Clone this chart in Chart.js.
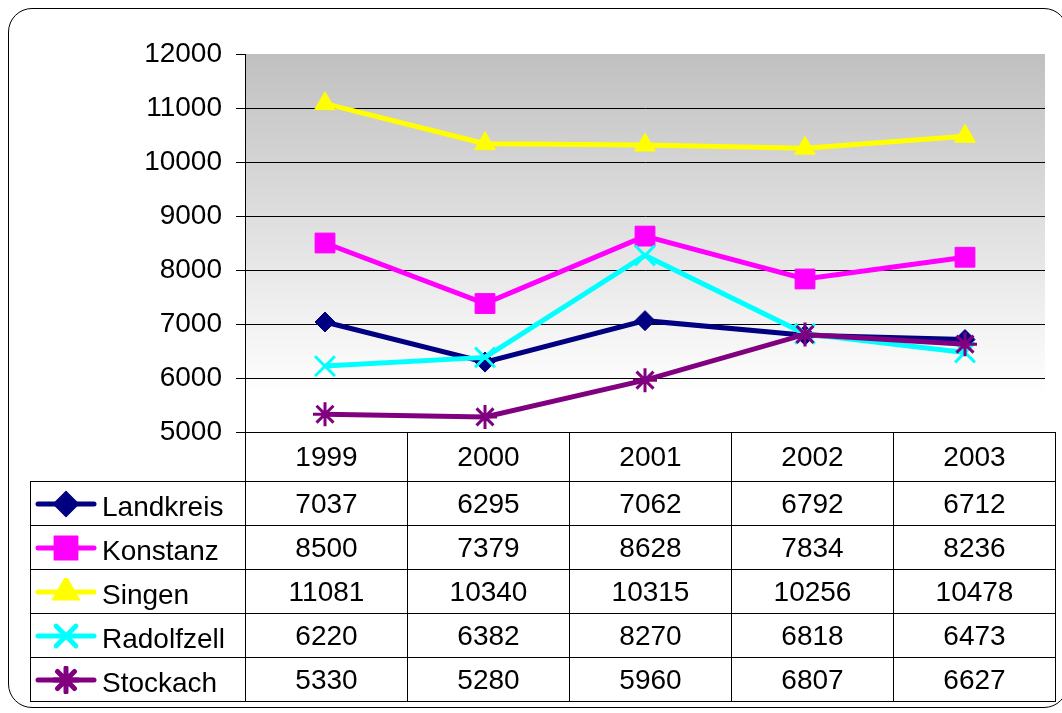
<!DOCTYPE html>
<html>
<head>
<meta charset="utf-8">
<script src="https://cdn.jsdelivr.net/npm/chart.js@4"></script>
<style>
    body { margin: 0; background: #fff; font-family: "Liberation Sans", Arial, sans-serif; }
    #wrap { position: relative; width: 1062px; height: 713px; overflow: hidden; }
    #frame {
        position: absolute; left: 8px; top: 8px; width: 1060px; height: 700px;
        border: 1.5px solid #000; border-radius: 24px; box-sizing: border-box;
    }
    #chart { position: absolute; left: 0; top: 0; }
    #tbl {
        position: absolute; left: 30px; top: 432px;
        border-collapse: collapse; table-layout: fixed; font-size: 28px; color: #000;
    }
    #tbl td { border: 1px solid #000; text-align: center; padding: 0; height: 43px; line-height: 30px; }
    #tbl tr.hdr td { height: 48px; }
    #tbl td.blank { border-top: none; border-left: none; }
    #tbl td.leg { text-align: left; white-space: nowrap; }
    #tbl td.leg canvas { vertical-align: middle; margin: 0 5px 0 4px; }
    #tbl td.leg span { vertical-align: middle; position: relative; top: 3px; }
</style>
</head>
<body>
<div id="wrap">
    <div id="frame"></div>
    <canvas id="chart" width="1062" height="713"></canvas>
    <table id="tbl"></table>
</div>
<script>
const years = ['1999', '2000', '2001', '2002', '2003'];
const seriesNames = ['Landkreis', 'Konstanz', 'Singen', 'Radolfzell', 'Stockach'];
const landkreis = [7037, 6295, 7062, 6792, 6712];
const konstanz = [8500, 7379, 8628, 7834, 8236];
const singen = [11081, 10340, 10315, 10256, 10478];
const radolfzell = [6220, 6382, 8270, 6818, 6473];
const stockach = [5330, 5280, 5960, 6807, 6627];
const yTicks = [5000, 6000, 7000, 8000, 9000, 10000, 11000, 12000];

const seriesValues = [landkreis, konstanz, singen, radolfzell, stockach];
const colors = ['#000080', '#ff00ff', '#ffff00', '#00ffff', '#800080'];
const styles = [
    { pointStyle: 'rectRot', radius: 10, borderWidth: 1 },
    { pointStyle: 'rect', radius: 14, borderWidth: 1 },
    { pointStyle: 'triangle', radius: 12, borderWidth: 1 },
    { pointStyle: 'crossRot', radius: 14, borderWidth: 3 },
    { pointStyle: 'star', radius: 12, borderWidth: 3 }
];

const datasets = seriesNames.map((name, i) => ({
    label: name,
    data: seriesValues[i],
    borderColor: colors[i],
    backgroundColor: colors[i],
    borderWidth: 5,
    tension: 0,
    pointStyle: styles[i].pointStyle,
    pointRadius: styles[i].radius,
    pointHoverRadius: styles[i].radius,
    pointBorderWidth: styles[i].borderWidth,
    order: seriesNames.length - i
}));

const plotBackground = {
    id: 'plotBackground',
    beforeDraw(chart) {
        const { ctx, chartArea: a } = chart;
        const g = ctx.createLinearGradient(0, a.top, 0, a.bottom);
        g.addColorStop(0, '#c0c0c0');
        g.addColorStop(0.9, '#ffffff');
        g.addColorStop(1, '#ffffff');
        ctx.save();
        ctx.fillStyle = g;
        ctx.fillRect(a.left, a.top, a.right - a.left, a.bottom - a.top);
        ctx.restore();
    }
};

new Chart(document.getElementById('chart'), {
    type: 'line',
    data: { labels: years, datasets: datasets },
    plugins: [plotBackground],
    options: {
        responsive: false,
        animation: false,
        layout: { padding: { left: 0, top: 54, right: 7, bottom: 281 } },
        plugins: { legend: { display: false }, tooltip: { enabled: false } },
        scales: {
            x: { display: false, offset: true },
            y: {
                min: 5000,
                max: 12000,
                afterFit(scale) { scale.width = 245; },
                afterBuildTicks(scale) { scale.ticks = yTicks.map(v => ({ value: v })); },
                border: { color: '#000', width: 1 },
                grid: {
                    color: c => c.tick && c.tick.value === 12000 ? 'rgba(0,0,0,0)' : '#000',
                    tickColor: '#000',
                    tickLength: 9,
                    lineWidth: 1
                },
                ticks: {
                    color: '#000',
                    padding: 14,
                    callback: v => String(v),
                    font: { family: '"Liberation Sans", Arial, sans-serif', size: 28 }
                }
            }
        }
    }
});

// data table under the plot
const tbl = document.getElementById('tbl');
let html = '<colgroup><col style="width:215px">' + years.map(() => '<col style="width:162px">').join('') + '</colgroup>';
html += '<tr class="hdr"><td class="blank"></td>' + years.map(y => '<td>' + y + '</td>').join('') + '</tr>';
seriesNames.forEach((name, i) => {
    html += '<tr><td class="leg"><canvas class="icon" width="62" height="28"></canvas><span>' + name + '</span></td>' +
        seriesValues[i].map(v => '<td>' + v + '</td>').join('') + '</tr>';
});
tbl.innerHTML = html;

document.querySelectorAll('canvas.icon').forEach((cv, i) => {
    const ctx = cv.getContext('2d');
    ctx.strokeStyle = colors[i];
    ctx.lineWidth = 5;
    ctx.lineCap = 'round';
    ctx.beginPath();
    ctx.moveTo(3, 14);
    ctx.lineTo(59, 14);
    ctx.stroke();
    ctx.fillStyle = colors[i];
    Chart.helpers.drawPoint(ctx, {
        pointStyle: styles[i].pointStyle,
        radius: styles[i].radius,
        rotation: 0,
        borderWidth: styles[i].borderWidth
    }, 31, 14);
});
</script>
</body>
</html>
